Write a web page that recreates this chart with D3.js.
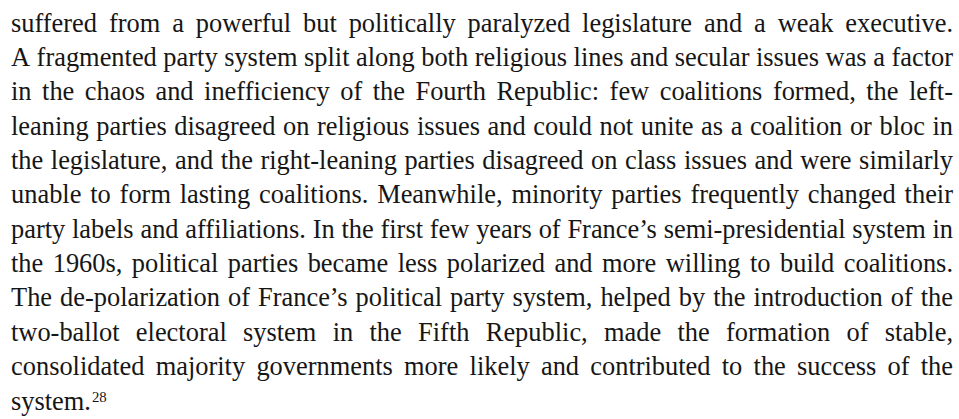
<!DOCTYPE html>
<html>
<head>
<meta charset="utf-8">
<script src="https://cdn.jsdelivr.net/npm/d3@7"></script>
<style>
  body { margin: 0; background: #fff; }
  svg { display: block; }
</style>
</head>
<body>
<svg width="959" height="419"></svg>
<script>
// paragraph text, one entry per printed line
var lines = [
  "suffered from a powerful but politically paralyzed legislature and a weak executive.",
  "A fragmented party system split along both religious lines and secular issues was a factor",
  "in the chaos and inefficiency of the Fourth Republic: few coalitions formed, the left-",
  "leaning parties disagreed on religious issues and could not unite as a coalition or bloc in",
  "the legislature, and the right-leaning parties disagreed on class issues and were similarly",
  "unable to form lasting coalitions. Meanwhile, minority parties frequently changed their",
  "party labels and affiliations. In the first few years of France\u2019s semi-presidential system in",
  "the 1960s, political parties became less polarized and more willing to build coalitions.",
  "The de-polarization of France\u2019s political party system, helped by the introduction of the",
  "two-ballot electoral system in the Fifth Republic, made the formation of stable,",
  "consolidated majority governments more likely and contributed to the success of the",
  "system."
];
var footnote = "28";

var svg = d3.select("svg");
var left = 11, right = 953;
var font = "'Liberation Serif', 'Times New Roman', serif";
var ink = "#161616";

// baselines of the lines
var y = d3.scalePoint()
  .domain(d3.range(lines.length))
  .range([31.5, 409.5]);

// pick the font size so the tightest line fits with ordinary spaces
var probe = svg.append("text").attr("font-family", font).attr("font-size", 100)
  .text(lines[1]);
var fontSize = 100 * (right - left) / probe.node().getComputedTextLength();
probe.remove();

// width of one space at that size
var space = svg.append("text").attr("font-family", font).attr("font-size", fontSize)
  .text("a a");
var spaceW = space.node().getComputedTextLength();
space.text("aa");
spaceW -= space.node().getComputedTextLength();
space.remove();

lines.forEach(function(line, i) {
  var words = line.split(" ");
  var g = svg.append("g");
  var txt = g.selectAll("text")
    .data(words)
    .enter().append("text")
    .attr("y", y(i))
    .attr("font-family", font)
    .attr("font-size", fontSize)
    .attr("fill", ink)
    .text(function(d) { return d; });

  var widths = [];
  txt.each(function() { widths.push(this.getComputedTextLength()); });
  var total = d3.sum(widths);
  var last = i === lines.length - 1;
  // justify every line but the last
  var gap = last || words.length < 2 ? spaceW : (right - left - total) / (words.length - 1);

  var x = left;
  txt.attr("x", function(d, j) {
    var pos = x;
    x += widths[j] + gap;
    return pos;
  });

  if (last) {
    g.append("text")
      .attr("x", left + total + 1)
      .attr("y", y(i) - fontSize * 0.3)
      .attr("font-family", font)
      .attr("font-size", fontSize * 0.56)
      .attr("fill", ink)
      .text(footnote);
  }
});
</script>
</body>
</html>
